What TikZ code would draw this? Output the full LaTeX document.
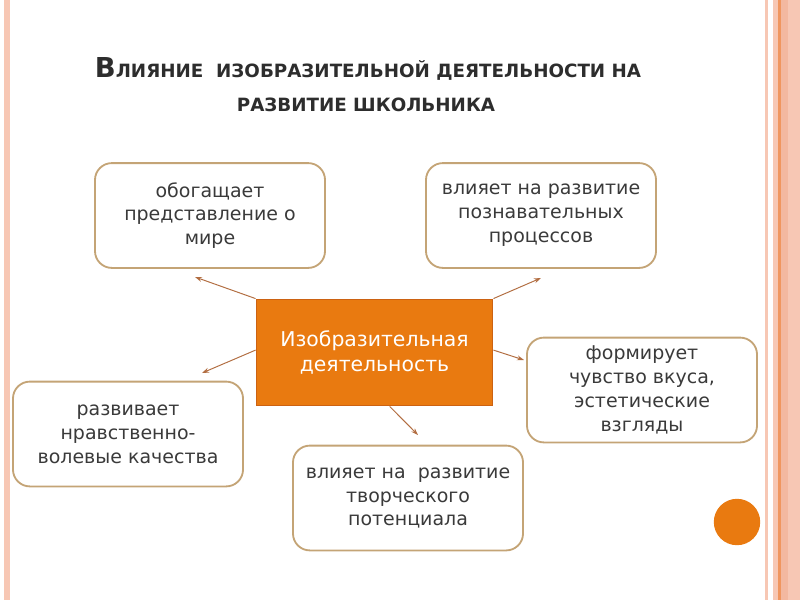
\documentclass[tikz,border=0pt]{standalone}
\usepackage{fontspec}
\setmainfont{DejaVu Sans}
\usepackage{tikz}
\usetikzlibrary{arrows.meta,positioning}
\definecolor{boxtan}{RGB}{196, 164, 118}
\definecolor{linkbrown}{RGB}{178, 110, 66}
\definecolor{hubfill}{RGB}{233, 122, 16}
\definecolor{hubedge}{RGB}{204, 98, 18}
\definecolor{stripepink}{RGB}{247, 199, 180}
\definecolor{stripedeep}{RGB}{243, 184, 160}
\definecolor{stripeorange}{RGB}{240, 150, 95}
\definecolor{inkgray}{RGB}{58, 58, 58}
\definecolor{titlegray}{RGB}{45, 45, 45}

\begin{document}
\begin{tikzpicture}[x=0.025cm,y=-0.025cm,
    idea/.style={draw=boxtan,line width=1.3pt,rounded corners=12pt,fill=white,
      minimum width=5.75cm,minimum height=2.62cm,align=center,text=inkgray,
      font=\fontsize{13.5}{17}\selectfont},
    hub/.style={draw=hubedge,line width=1.3pt,fill=hubfill,
      minimum width=5.9cm,minimum height=2.65cm,align=center,text=white,
      font=\fontsize{14.5}{18}\selectfont},
    link/.style={draw=linkbrown,line width=0.7pt,-{Stealth[length=5pt,width=3.5pt]}},
    heading/.style={text=titlegray,inner sep=0pt,anchor=base,font=\bfseries}]
    \useasboundingbox (0,0) rectangle (800,600);
    % side stripes
    \fill[stripepink] (4,0) rectangle (10,600);
    \fill[stripepink] (765,0) rectangle (768,600);
    \fill[stripepink] (773,0) rectangle (800,600);
    \fill[stripedeep] (781,0) rectangle (788,600);
    \fill[stripeorange] (778,0) rectangle (781,600);
    % title
    \node[heading] (head1) at (368,77) {{\fontsize{19.5}{20}\selectfont В}{\fontsize{13}{13}\selectfont ЛИЯНИЕ\ \ ИЗОБРАЗИТЕЛЬНОЙ ДЕЯТЕЛЬНОСТИ НА}};
    \node[heading] (head2) at (366,111) {\fontsize{13}{13}\selectfont РАЗВИТИЕ ШКОЛЬНИКА};
    % boxes
    \node[idea] (world) at (210,215.5) {обогащает\\представление о\\мире};
    \node[idea] (cognition) at (541,215.5) {влияет на развитие\\познавательных\\процессов};
    \node[hub] (art) at (374.5,352.5) {Изобразительная\\деятельность};
    \node[idea] (taste) at (642,390) {формирует\\чувство вкуса,\\эстетические\\взгляды};
    \node[idea] (will) at (128,434) {развивает\\нравственно-\\волевые качества};
    \node[idea] (creative) at (408,498) {влияет на\ \ развитие\\творческого\\потенциала};
    % arrow ends
    \coordinate (worldtip) at (195,277);
    \coordinate (cognitiontip) at (541,278);
    \coordinate (willtip) at (202,373);
    \coordinate (tastetip) at (524,360);
    \coordinate (creativetip) at (418,435);
    \draw[link] (art.north west) -- (worldtip);
    \draw[link] (art.north east) -- (cognitiontip);
    \draw[link] ([yshift=0.06cm]art.west) -- (willtip);
    \draw[link] ([yshift=0.06cm]art.east) -- (tastetip);
    \draw[link] ([xshift=0.38cm]art.south) -- (creativetip);
    % dot
    \fill[hubfill] (737,522) circle (0.58cm);
\end{tikzpicture}
\end{document}
